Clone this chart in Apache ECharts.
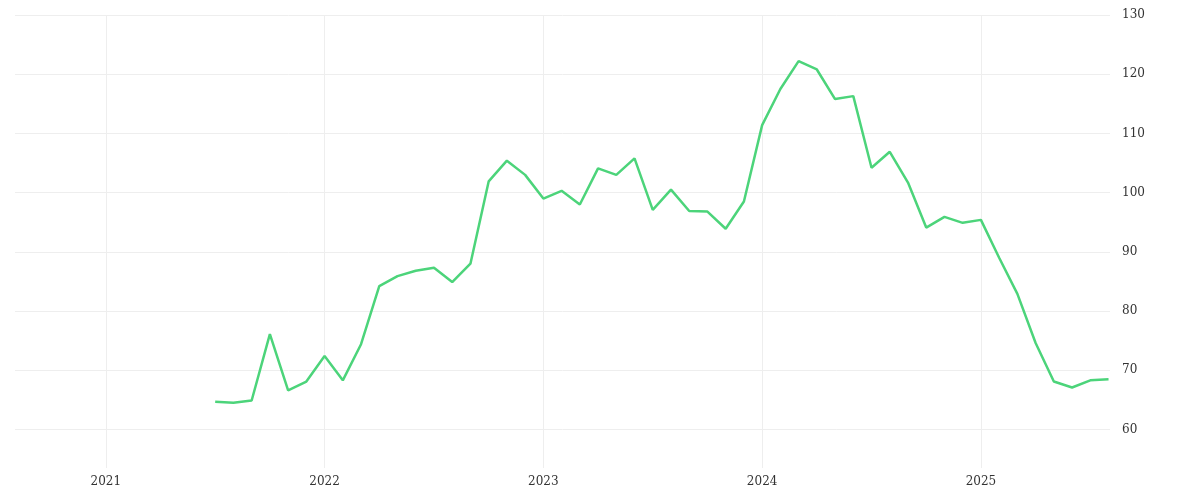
<!DOCTYPE html>
<html><head><meta charset="utf-8">
<script src="https://cdn.jsdelivr.net/npm/echarts@6/dist/echarts.min.js"></script>
<style>html,body{margin:0;padding:0;background:#fff}#c{width:1200px;height:500px}</style>
</head><body><div id="c"></div>
<script>
const values = [64.7,64.5,64.9,76.1,66.6,68.1,72.4,68.3,74.4,84.2,85.9,86.8,87.3,84.9,88.0,101.9,105.4,103.0,
99.0,100.3,98.0,104.1,103.0,105.8,97.1,100.5,96.9,96.8,93.9,98.5,
111.4,117.5,122.2,120.8,115.8,116.3,104.2,106.9,101.7,94.1,95.9,94.9,
95.4,89.0,82.9,74.6,68.1,67.1,68.3,68.5];
const yTicks = [60,70,80,90,100,110,120,130];
const xTicks = [2021,2022,2023,2024,2025];
// month index from Jul 2021, x in decimal years
const data = values.map((v,i)=>[2021 + (6+i)/12, v]);
const chart = echarts.init(document.getElementById('c'));
chart.setOption({
  animation:false,
  grid:{left:15,right:90,top:15,bottom:32},
  xAxis:{type:'value',min:2020.585,max:2025.59,
    axisLine:{show:false},
    axisTick:{show:false,customValues:xTicks},
    axisLabel:{customValues:xTicks,formatter:v=>String(Math.round(v)),color:'#333',fontSize:12,fontFamily:'DejaVu Serif'},
    splitLine:{show:true,lineStyle:{color:'#eeeeee'}}},
  yAxis:{type:'value',position:'right',min:53.5,max:130,
    axisLine:{show:false},axisTick:{show:false,customValues:yTicks},
    axisLabel:{customValues:yTicks,color:'#333',fontSize:12,margin:12,fontFamily:'DejaVu Serif'},
    splitLine:{show:true,lineStyle:{color:'#eeeeee'}}},
  series:[{type:'line',data:data,showSymbol:false,lineStyle:{color:'#4cd47a',width:2.5},itemStyle:{color:'#4cd47a'}}]
});
</script></body></html>
